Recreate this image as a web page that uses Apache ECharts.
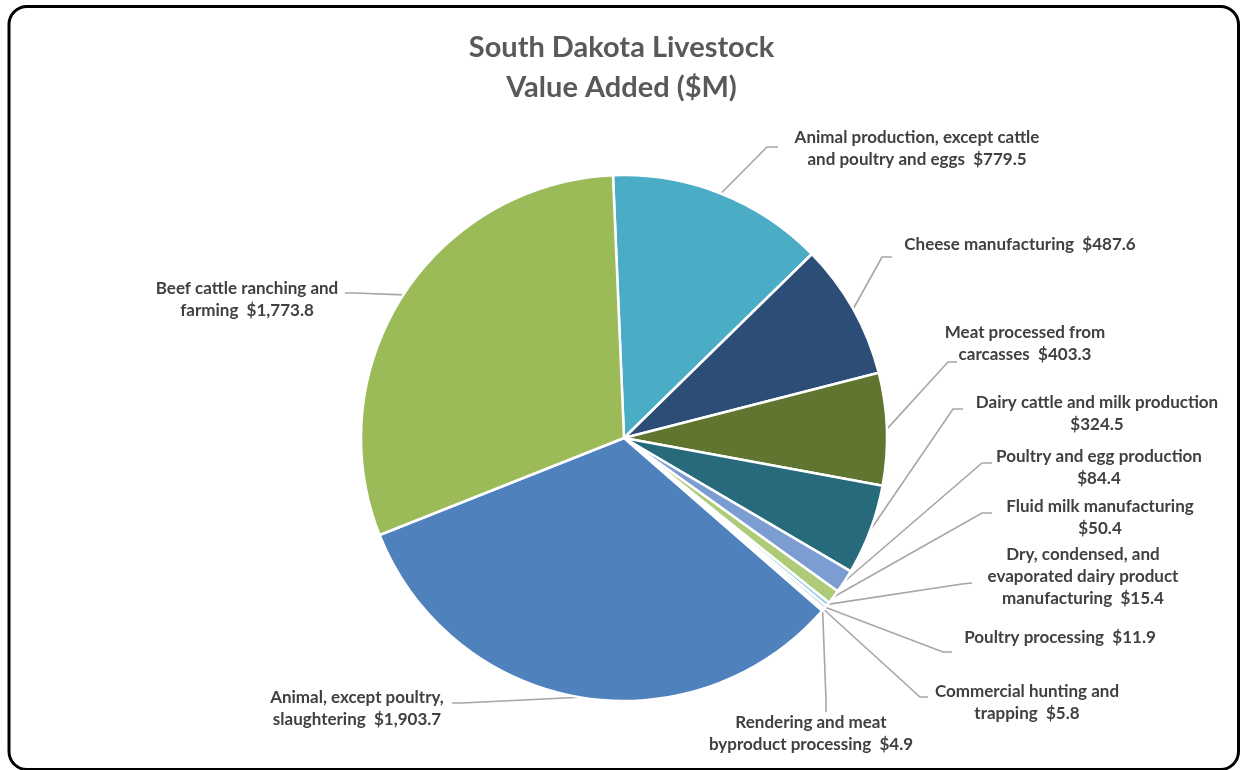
<!DOCTYPE html>
<html>
<head>
<meta charset="utf-8">
<title>South Dakota Livestock Value Added ($M)</title>
<script src="https://cdn.jsdelivr.net/npm/echarts@6/dist/echarts.min.js"></script>
<style>
  html, body { margin: 0; padding: 0; background: #ffffff; }
  #chart { width: 1243px; height: 770px; }
</style>
</head>
<body>
<div id="chart"></div>
<script>
// Industries in clockwise order starting at twelve o'clock ("\n" marks where a label wraps)
const categories = [
  'Animal production, except cattle\nand poultry and eggs',
  'Cheese manufacturing',
  'Meat processed from\ncarcasses',
  'Dairy cattle and milk production',
  'Poultry and egg production',
  'Fluid milk manufacturing',
  'Dry, condensed, and\nevaporated dairy product\nmanufacturing',
  'Poultry processing',
  'Commercial hunting and\ntrapping',
  'Rendering and meat\nbyproduct processing',
  'Animal, except poultry,\nslaughtering',
  'Beef cattle ranching and\nfarming'
];

// Value added, millions of dollars
const values = [779.5, 487.6, 403.3, 324.5, 84.4, 50.4, 15.4, 11.9, 5.8, 4.9, 1903.7, 1773.8];

// Whether the dollar figure sits on its own line under the name
const valueOnOwnLine = [false, false, false, true, true, true, false, false, false, false, false, false];

const sliceColors = [
  '#4BACC6', '#2C4D75', '#5F7530', '#276A7C', '#7B9DD2', '#AECB79',
  '#86C7DA', '#A9BFE0', '#C9DBA6', '#B4DCE7', '#4F81BD', '#9BBB59'
];

// Label block centres and leader-line ends (px)
const labelPlacement = [
  { x: 917,  y: 149, end: [778, 147], elbow: [767, 147] },
  { x: 1020, y: 245, end: [892, 257], elbow: [882, 257] },
  { x: 1025, y: 344, end: [957, 362], elbow: [948, 362] },
  { x: 1097, y: 414, end: [963, 409], elbow: [953, 409] },
  { x: 1099, y: 468, end: [992, 463], elbow: [982, 463] },
  { x: 1100, y: 518, end: [992, 513], elbow: [982, 513] },
  { x: 1083, y: 577, end: [972, 583], elbow: [962, 584] },
  { x: 1060, y: 638, end: [952, 652], elbow: [943, 652] },
  { x: 1027, y: 703, end: [928, 697], elbow: [920, 697] },
  { x: 811,  y: 734, end: [826, 712], elbow: [826, 700] },
  { x: 357,  y: 709, end: [452, 703], elbow: [462, 703] },
  { x: 247,  y: 300, end: [345, 293], elbow: [355, 293] }
];

function money(v) {
  return '$' + v.toLocaleString('en-US', { minimumFractionDigits: 1, maximumFractionDigits: 1 });
}

const pieData = categories.map(function (name, i) {
  return { name: name, value: values[i], itemStyle: { color: sliceColors[i] } };
});

const chart = echarts.init(document.getElementById('chart'), null, { renderer: 'canvas' });

chart.setOption({
  backgroundColor: '#ffffff',
  animation: false,
  title: {
    text: 'South Dakota Livestock\nValue Added ($M)',
    left: 'center',
    top: 23,
    textStyle: {
      fontFamily: 'Lato',
      fontWeight: 'bold',
      fontSize: 29,
      lineHeight: 40,
      color: '#595959'
    }
  },
  graphic: [{
    type: 'rect',
    silent: true,
    z: -1,
    shape: { x: 9, y: 6.5, width: 1229.5, height: 763, r: 18 },
    style: { fill: null, stroke: '#000000', lineWidth: 3 }
  }],
  series: [{
    type: 'pie',
    center: [624, 438],
    radius: [0, 263],
    startAngle: 92.4,
    clockwise: true,
    avoidLabelOverlap: false,
    data: pieData,
    itemStyle: { borderColor: '#ffffff', borderWidth: 2.5 },
    label: {
      show: true,
      position: 'outside',
      fontFamily: 'Lato',
      fontWeight: 'bold',
      fontSize: 17,
      lineHeight: 22,
      color: '#404040',
      align: 'center',
      formatter: function (p) {
        const sep = valueOnOwnLine[p.dataIndex] ? '\n' : '  ';
        return p.name + sep + money(p.value);
      }
    },
    labelLine: {
      show: true,
      length: 20,
      length2: 10,
      lineStyle: { color: '#A6A6A6', width: 1.6 }
    },
    labelLayout: function (params) {
      const place = labelPlacement[params.dataIndex];
      const pts = params.labelLinePoints;
      const out = { x: place.x, y: place.y, align: 'center', verticalAlign: 'middle' };
      if (pts && pts.length) {
        out.labelLinePoints = [pts[0], place.elbow, place.end];
      }
      return out;
    },
    emphasis: { disabled: true }
  }]
});
</script>
</body>
</html>
